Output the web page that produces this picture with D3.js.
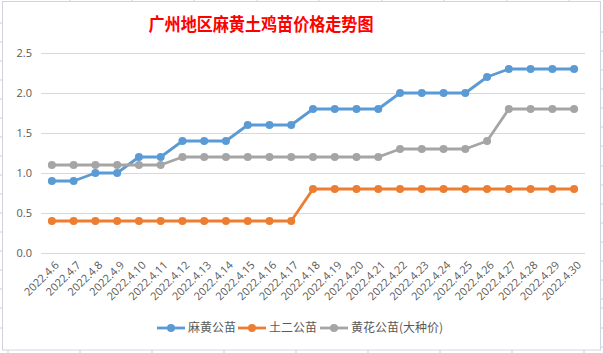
<!DOCTYPE html>
<html>
<head>
<meta charset="utf-8">
<script src="https://cdn.jsdelivr.net/npm/d3@7"></script>
<style>
  body { margin: 0; background: #fff; }
  svg { display: block; font-family: "Noto Sans CJK SC", "Noto Sans", sans-serif; }
</style>
</head>
<body>
<svg id="chart" width="603" height="353"></svg>
<script>
'use strict';

const chartTitle = '广州地区麻黄土鸡苗价格走势图';
const dates = ['2022.4.6', '2022.4.7', '2022.4.8', '2022.4.9', '2022.4.10', '2022.4.11',
    '2022.4.12', '2022.4.13', '2022.4.14', '2022.4.15', '2022.4.16', '2022.4.17',
    '2022.4.18', '2022.4.19', '2022.4.20', '2022.4.21', '2022.4.22', '2022.4.23',
    '2022.4.24', '2022.4.25', '2022.4.26', '2022.4.27', '2022.4.28', '2022.4.29', '2022.4.30'];
const mahuang = [0.9, 0.9, 1.0, 1.0, 1.2, 1.2, 1.4, 1.4, 1.4, 1.6, 1.6, 1.6,
    1.8, 1.8, 1.8, 1.8, 2.0, 2.0, 2.0, 2.0, 2.2, 2.3, 2.3, 2.3, 2.3];
const tuer = [0.4, 0.4, 0.4, 0.4, 0.4, 0.4, 0.4, 0.4, 0.4, 0.4, 0.4, 0.4,
    0.8, 0.8, 0.8, 0.8, 0.8, 0.8, 0.8, 0.8, 0.8, 0.8, 0.8, 0.8, 0.8];
const huanghua = [1.1, 1.1, 1.1, 1.1, 1.1, 1.1, 1.2, 1.2, 1.2, 1.2, 1.2, 1.2,
    1.2, 1.2, 1.2, 1.2, 1.3, 1.3, 1.3, 1.3, 1.4, 1.8, 1.8, 1.8, 1.8];
const seriesNames = ['麻黄公苗', '土二公苗', '黄花公苗(大种价)'];
const yTicks = [0, 0.5, 1.0, 1.5, 2.0, 2.5];

const series = [
    {name: seriesNames[0], values: mahuang, color: '#5B9BD5'},
    {name: seriesNames[1], values: tuer, color: '#ED7D31'},
    {name: seriesNames[2], values: huanghua, color: '#A5A5A5'},
];

const svg = d3.select('#chart');
const gridColor = '#CFCFDD';

// spreadsheet stubs round the chart frame
[70, 132, 194, 257, 319, 382, 444, 507, 569].forEach(function(x) {
    svg.append('line').attr('x1', x).attr('x2', x).attr('y1', 0).attr('y2', 2)
        .attr('stroke', gridColor);
});
[8, 80, 152, 224, 296, 368, 440, 512, 584].forEach(function(x) {
    svg.append('line').attr('x1', x).attr('x2', x).attr('y1', 350).attr('y2', 353)
        .attr('stroke', gridColor);
});
[23, 42, 61, 80, 99, 118, 137, 156, 175, 194, 213, 232, 251, 270, 289, 308, 328].forEach(function(y) {
    svg.append('line').attr('x1', 0).attr('x2', 2).attr('y1', y).attr('y2', y)
        .attr('stroke', gridColor);
});
[32, 51, 70, 89, 108, 127, 146, 166, 185, 204, 223, 242, 261, 280, 299, 308, 328, 347].forEach(function(y) {
    svg.append('line').attr('x1', 601).attr('x2', 603).attr('y1', y).attr('y2', y)
        .attr('stroke', gridColor);
});

// chart frame
svg.append('rect')
    .attr('x', 2.5).attr('y', 1.5)
    .attr('width', 598).attr('height', 348.5)
    .attr('fill', '#fff')
    .attr('stroke', '#D3D3DF');

let x = d3.scaleBand().domain(dates).range([41, 585]);
let y = d3.scaleLinear().domain([0, 2.5]).range([253, 53]);

// title
svg.append('text')
    .attr('x', 261).attr('y', 31)
    .attr('text-anchor', 'middle')
    .attr('fill', '#FF0000')
    .attr('textLength', 225)
    .attr('lengthAdjust', 'spacingAndGlyphs')
    .style('font-size', '18px')
    .style('font-weight', 'bold')
    .text(chartTitle);

// y gridlines + labels
let yAxis = d3.axisLeft(y).tickValues(yTicks)
    .tickSize(-(585 - 41)).tickPadding(9)
    .tickFormat(d3.format('.1f'));
let gy = svg.append('g').attr('transform', 'translate(41,0)').call(yAxis);
gy.select('.domain').remove();
gy.selectAll('.tick line').attr('stroke', '#D9D9D9');
gy.selectAll('.tick text')
    .attr('fill', '#595959')
    .style('font-size', '11px')
    .style('font-family', '"Open Sans", "Noto Sans", sans-serif');

// x labels, rotated
let xAxis = d3.axisBottom(x).tickSize(0).tickPadding(0);
let gx = svg.append('g').attr('transform', 'translate(0,253)').call(xAxis);
gx.select('.domain').remove();
gx.selectAll('.tick text')
    .attr('text-anchor', 'end')
    .attr('fill', '#595959')
    .attr('dy', '0.35em')
    .attr('transform', 'translate(5,10) rotate(-45)')
    .attr('y', 0).attr('x', 0)
    .style('font-size', '11px')
    .style('font-family', '"Open Sans", "Noto Sans", sans-serif');

let cx = function(d, i) {
    return x(dates[i]) + x.bandwidth() / 2;
};

let line = d3.line()
    .x(cx)
    .y(function(d) {
        return y(d);
    });

series.forEach(function(s) {
    let g = svg.append('g');
    g.append('path')
        .datum(s.values)
        .attr('d', line)
        .attr('fill', 'none')
        .attr('stroke', s.color)
        .attr('stroke-width', 2.8)
        .attr('stroke-linejoin', 'round');
    g.selectAll('circle')
        .data(s.values)
        .enter().append('circle')
        .attr('cx', cx)
        .attr('cy', function(d) {
            return y(d);
        })
        .attr('r', 4)
        .attr('fill', s.color);
});

// legend
let legendX = [157, 238, 320];
let legend = svg.append('g').attr('transform', 'translate(0,328)');
series.forEach(function(s, i) {
    let lg = legend.append('g').attr('transform', 'translate(' + legendX[i] + ',0)');
    lg.append('line').attr('x1', 0).attr('x2', 28)
        .attr('stroke', s.color).attr('stroke-width', 2.8);
    lg.append('circle').attr('cx', 14).attr('r', 4).attr('fill', s.color);
    lg.append('text')
        .attr('x', 31).attr('dy', '0.35em')
        .attr('fill', '#595959')
        .style('font-size', '12px')
        .text(s.name);
});
</script>
</body>
</html>
